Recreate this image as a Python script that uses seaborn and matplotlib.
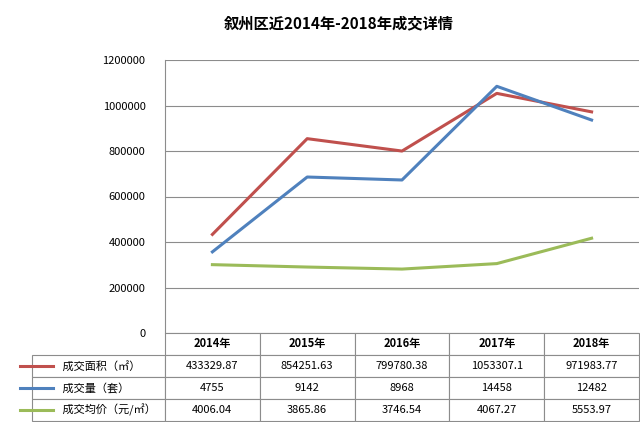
import matplotlib
matplotlib.use("Agg")
import matplotlib.pyplot as plt
import seaborn as sns
from matplotlib.lines import Line2D
from matplotlib import font_manager as fm

cjk = None
for name in ["Noto Sans CJK SC", "Noto Sans CJK JP", "Noto Sans CJK TC", "Noto Sans CJK KR"]:
    try:
        fm.findfont(fm.FontProperties(family=name), fallback_to_default=False)
        cjk = name
        break
    except Exception:
        pass
plt.rcParams["font.family"] = [f for f in [cjk, "DejaVu Sans"] if f]
plt.rcParams["axes.unicode_minus"] = False

years = ["2014年", "2015年", "2016年", "2017年", "2018年"]
area = [433329.87, 854251.63, 799780.38, 1053307.1, 971983.77]
volume = [4755, 9142, 8968, 14458, 12482]
price = [4006.04, 3865.86, 3746.54, 4067.27, 5553.97]
area_lbl = ["433329.87", "854251.63", "799780.38", "1053307.1", "971983.77"]
vol_lbl = ["4755", "9142", "8968", "14458", "12482"]
price_lbl = ["4006.04", "3865.86", "3746.54", "4067.27", "5553.97"]
names = ["成交面积（㎡）", "成交量（套）", "成交均价（元/㎡）"]
colors = ["#C0504D", "#4F81BD", "#9BBB59"]

fig = plt.figure(figsize=(6.4, 4.22), dpi=100)
ax = fig.add_axes([165 / 640, 1 - 333 / 422, 474 / 640, 273 / 422])
ax2 = ax.twinx()

x = list(range(len(years)))
sns.lineplot(x=x, y=area, ax=ax, color=colors[0], linewidth=2.2)
sns.lineplot(x=x, y=volume, ax=ax2, color=colors[1], linewidth=2.2)
sns.lineplot(x=x, y=price, ax=ax2, color=colors[2], linewidth=2.2)

ax.set_ylim(0, 1200000)
ax2.set_ylim(0, 16000)
ax2.set_yticks([])
ax.set_xlim(-0.5, 4.5)
ax.set_yticks(range(0, 1200001, 200000))
ax.ticklabel_format(axis="y", style="plain", useOffset=False)
ax.tick_params(axis="y", labelsize=8, length=0, pad=14)
ax.set_xticks([])
ax.grid(True, axis="y", color="#8C8C8C", linewidth=0.8)
ax.set_axisbelow(True)
for a in (ax, ax2):
    for s in a.spines.values():
        s.set_visible(False)
ax.spines["left"].set_visible(True)
ax.spines["left"].set_color("#8C8C8C")

fig.text(0.53, 0.945, "叙州区近2014年-2018年成交详情", ha="center", va="center",
         fontsize=11, fontweight="bold")

th = 88 / 273
lw = 150 / 474
tb = ax.table(cellText=[area_lbl, vol_lbl, price_lbl],
              rowLabels=["       " + n for n in names],
              colLabels=years, cellLoc="center", rowLoc="left",
              bbox=[0, -th, 1, th])
tb.auto_set_font_size(False)
for (r, c), cell in tb.get_celld().items():
    cell.set_edgecolor("#8C8C8C")
    cell.set_linewidth(0.8)
    cell.get_text().set_fontsize(8)
    if c == -1:
        cell.set_width(lw)
    if r == 0:
        cell.get_text().set_fontweight("bold")
row_h = th / 4
for i, col in enumerate(colors):
    yy = -th + row_h * (2 - i) + row_h / 2
    ax.add_line(Line2D([-lw + 0.01, -lw + 0.08], [yy, yy], color=col, linewidth=2.2,
                       transform=ax.transAxes, clip_on=False))

fig.savefig("out.png", dpi=100)
